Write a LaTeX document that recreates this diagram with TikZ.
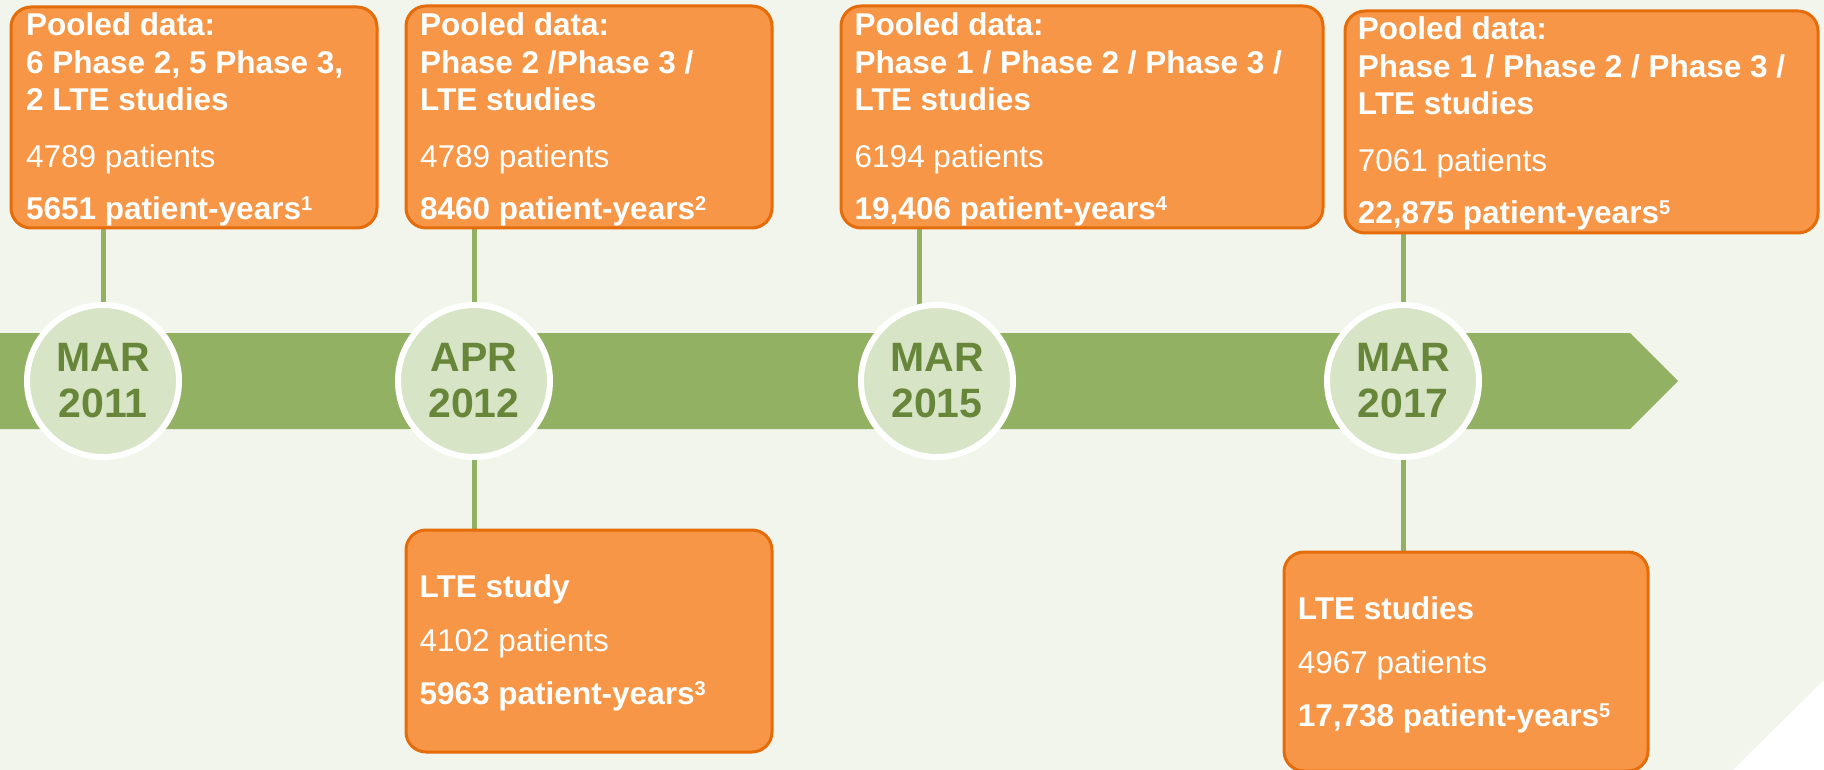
\documentclass[tikz,border=0pt]{standalone}
\usepackage{fontspec}
\setmainfont{Liberation Sans}
\usetikzlibrary{backgrounds}

\definecolor{bgpale}{HTML}{F2F5EC}
\definecolor{bandgreen}{HTML}{93B163}
\definecolor{circfill}{HTML}{D7E4C6}
\definecolor{datetext}{HTML}{68863A}
\definecolor{boxfill}{HTML}{F79646}
\definecolor{boxline}{HTML}{E46C0A}

\newcommand{\refnum}[1]{\raisebox{9pt}{\fontsize{20}{20}\selectfont #1}}

\tikzset{
    box/.style={draw=boxline, fill=boxfill, line width=3pt, rounded corners=20pt,
        inner sep=0pt, anchor=north west},
    boxtext/.style={text=white, align=left, inner sep=0pt, anchor=north west,
        font=\fontsize{31.5}{37.6}\selectfont},
    datecircle/.style={circle, draw=white, line width=6pt, fill=circfill,
        minimum size=152pt, inner sep=0pt, text=datetext, align=center,
        font=\fontsize{41}{46}\selectfont\bfseries},
    link/.style={draw=bandgreen, line width=5pt}
}

\begin{document}
\begin{tikzpicture}[x=1pt, y=-1pt]

    \useasboundingbox (0,0) rectangle (1824,770);

    % date circles on the timeline
    \node[datecircle] (c1) at (103,381) {MAR\\2011};
    \node[datecircle] (c2) at (474,381) {APR\\2012};
    \node[datecircle] (c3) at (937,381) {MAR\\2015};
    \node[datecircle] (c4) at (1403,381) {MAR\\2017};

    % orange boxes
    \node[box, minimum width=366pt, minimum height=221pt] (b1) at (9.5,5.5) {};
    \node[box, minimum width=366pt, minimum height=222pt] (b2) at (404.5,4.5) {};
    \node[box, minimum width=482pt, minimum height=222pt] (b3) at (839.5,4.5) {};
    \node[box, minimum width=473pt, minimum height=222pt] (b4) at (1343.5,9.5) {};
    \node[box, minimum width=366pt, minimum height=222pt] (b5) at (404.5,528.5) {};
    \node[box, minimum width=364pt, minimum height=219pt] (b6) at (1282.5,550.5) {};

    \node[boxtext] (t1) at (26,12.7)
        {\textbf{Pooled data:}\\\textbf{6 Phase 2, 5 Phase 3,}\\\textbf{2 LTE studies}\\[18.7pt]
         4789 patients\\[15pt]\textbf{5651 patient-years\refnum{1}}};
    \node[boxtext] (t2) at (420,12.7)
        {\textbf{Pooled data:}\\\textbf{Phase 2 /Phase 3 /}\\\textbf{LTE studies}\\[18.7pt]
         4789 patients\\[15pt]\textbf{8460 patient-years\refnum{2}}};
    \node[boxtext] (t3) at (854.5,12.7)
        {\textbf{Pooled data:}\\\textbf{Phase 1 / Phase 2 / Phase 3 /}\\\textbf{LTE studies}\\[18.7pt]
         6194 patients\\[15pt]\textbf{19,406 patient-years\refnum{4}}};
    \node[boxtext] (t4) at (1357.7,16.5)
        {\textbf{Pooled data:}\\\textbf{Phase 1 / Phase 2 / Phase 3 /}\\\textbf{LTE studies}\\[18.7pt]
         7061 patients\\[15pt]\textbf{22,875 patient-years\refnum{5}}};
    \node[boxtext] (t5) at (419.5,574.3)
        {\textbf{LTE study}\\[16.8pt]4102 patients\\[14.7pt]\textbf{5963 patient-years\refnum{3}}};
    \node[boxtext] (t6) at (1297.7,596.3)
        {\textbf{LTE studies}\\[16.4pt]4967 patients\\[15.8pt]\textbf{17,738 patient-years\refnum{5}}};

    \begin{pgfonlayer}{background}
        \fill[bgpale] (0,0) rectangle (1824,770);
        \fill[white] (1733,770) -- (1824,680) -- (1824,770) -- cycle;

        % timeline band
        \fill[bandgreen] (0,333) -- (1630,333) -- (1678,381) -- (1630,429) -- (0,429) -- cycle;

        \draw[link] (c1 |- b1.south) -- (c1);
        \draw[link] (c2 |- b2.south) -- (c2);
        \draw[link] ([xshift=-18pt]c3.center |- b3.south) -- ([xshift=-18pt]c3.center);
        \draw[link] (c4 |- b4.south) -- (c4);
        \draw[link] (c2) -- (c2 |- b5.north);
        \draw[link] (c4) -- (c4 |- b6.north);
    \end{pgfonlayer}

\end{tikzpicture}
\end{document}
